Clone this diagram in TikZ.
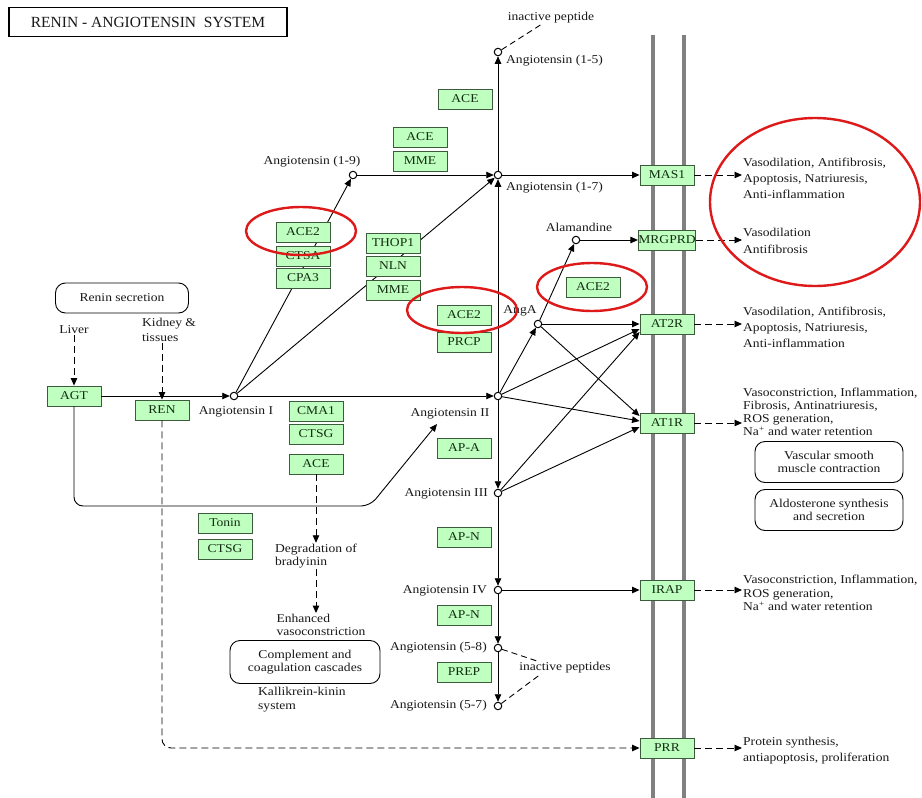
\documentclass[tikz,border=0pt]{standalone}
\usepackage{fontspec}
\setmainfont{Liberation Serif}[FakeStretch=1.13]
\newfontfamily\titlefont{Liberation Serif}
\usetikzlibrary{arrows.meta}
\definecolor{genefill}{RGB}{191,255,191}
\definecolor{genedraw}{RGB}{60,90,60}
\definecolor{genetext}{RGB}{20,45,20}
\definecolor{txtgrey}{RGB}{25,25,25}
\definecolor{membgrey}{RGB}{128,128,128}
\definecolor{hired}{RGB}{222,25,25}
\newcommand{\txtsize}[1]{\fontsize{12}{#1}\selectfont}

\begin{document}
\begin{tikzpicture}[x=1pt, y=-1pt,
    gene/.style={draw=genedraw, fill=genefill, text=genetext, line width=0.9pt,
      minimum width=54pt, minimum height=20pt, inner sep=0pt, font=\txtsize{14}},
    cpd/.style={circle, draw, fill=white, line width=1pt, minimum size=7.5pt, inner sep=0pt},
    lbl/.style={text=txtgrey, inner sep=1pt, font=\txtsize{15}},
    outtxt/.style={lbl, align=left, anchor=west},
    phen/.style={draw, line width=0.9pt, rounded corners=10pt, align=center, text=txtgrey, font=\txtsize{13}},
    conv/.style={line width=0.9pt, -{Triangle[length=7.5pt, width=6.5pt]}},
    dconv/.style={conv, dash pattern=on 7pt off 4pt},
    dline/.style={line width=0.9pt, dash pattern=on 6pt off 4pt},
    hilite/.style={draw=hired, line width=2.4pt}]
  \fill[white] (0,0) rectangle (922,798);
  \useasboundingbox (0,0) rectangle (922,798);

  % membrane
  \draw[membgrey, line width=3.5pt] (653,35) -- (653,798);
  \draw[membgrey, line width=3.5pt] (684,35) -- (684,798);

  \node[draw, line width=1.5pt, text=txtgrey, minimum width=278pt, minimum height=29pt,
    font=\titlefont\fontsize{15.5}{18}\selectfont] (title) at (148,22) {RENIN - ANGIOTENSIN\ \ SYSTEM};

  % compounds
  \node[cpd] (ang15) at (498,52) {};
  \node[cpd] (ang19) at (353,175) {};
  \node[cpd] (ang17) at (498,175) {};
  \node[cpd] (alam) at (576,240) {};
  \node[cpd] (angA) at (538,324) {};
  \node[cpd] (angI) at (234,396) {};
  \node[cpd] (angII) at (498,396) {};
  \node[cpd] (angIII) at (498,493) {};
  \node[cpd] (angIV) at (498,590) {};
  \node[cpd] (ang58) at (498,648) {};
  \node[cpd] (ang57) at (498,706) {};

  \node[lbl] (inact1) at (551,18) {inactive peptide};
  \node[lbl, anchor=west] (lab15) at (505,61) {Angiotensin (1-5)};
  \node[lbl] (lab19) at (312,162) {Angiotensin (1-9)};
  \node[lbl, anchor=west] (lab17) at (505,188) {Angiotensin (1-7)};
  \node[lbl] (labala) at (579,227) {Alamandine};
  \node[lbl] (labA) at (520,311) {AngA};
  \node[lbl] (labI) at (236,412) {Angiotensin I};
  \node[lbl] (labII) at (450,414) {Angiotensin II};
  \node[lbl, anchor=east] (labIII) at (489,494) {Angiotensin III};
  \node[lbl, anchor=east] (labIV) at (488,591) {Angiotensin IV};
  \node[lbl, anchor=east] (lab58) at (488,648) {Angiotensin (5-8)};
  \node[lbl, anchor=east] (lab57) at (488,706) {Angiotensin (5-7)};
  \node[lbl] (inact2) at (565,668) {inactive peptides};

  % receptors and end points
  \node[gene] (mas1) at (667,175) {MAS1};
  \node[gene] (mrgprd) at (667,240) {MRGPRD};
  \node[gene] (at2r) at (667,324) {AT2R};
  \node[gene] (at1r) at (667,423) {AT1R};
  \node[gene] (irap) at (667,590) {IRAP};
  \node[gene] (prr) at (667,748) {PRR};
  \node[gene] (agt) at (74,396) {AGT};
  \node[gene] (ren) at (162,410) {REN};
  \node[gene] (ace3) at (316,464) {ACE};
  \coordinate (agtII) at (437,424);

  \node[phen, minimum width=133pt, minimum height=30pt] (reninsec) at (122,298) {Renin secretion};
  \node[lbl] (liver) at (74,330) {Liver};
  \node[outtxt, font=\txtsize{15}] (kidney) at (141,330) {Kidney \&\\tissues};
  \node[lbl, align=left, font=\txtsize{13}] (degr) at (316,556) {Degradation of\\bradyinin};
  \node[lbl, align=left, font=\txtsize{13}] (enh) at (321,625) {Enhanced\\vasoconstriction};
  \node[phen, minimum width=150pt, minimum height=43pt] (compl) at (305,662) {Complement and\\coagulation cascades};
  \node[outtxt, font=\txtsize{14}] (kks) at (257,700) {Kallikrein-kinin\\system};

  \node[outtxt, font=\txtsize{16}] (out1) at (742,178) {Vasodilation, Antifibrosis,\\Apoptosis, Natriuresis,\\Anti-inflammation};
  \node[outtxt, font=\txtsize{16.5}] (out2) at (742,241) {Vasodilation\\Antifibrosis};
  \node[outtxt, font=\txtsize{16}] (out3) at (742,327) {Vasodilation, Antifibrosis,\\Apoptosis, Natriuresis,\\Anti-inflammation};
  \node[outtxt, font=\txtsize{13}] (out4) at (742,412) {Vasoconstriction, Inflammation,\\Fibrosis, Antinatriuresis,\\ROS generation,\\Na\textsuperscript{+} and water retention};
  \node[phen, minimum width=148pt, minimum height=41pt] (vsmc) at (829,462) {Vascular smooth\\muscle contraction};
  \node[phen, minimum width=148pt, minimum height=41pt] (aldo) at (829,510) {Aldosterone synthesis\\and secretion};
  \node[outtxt, font=\txtsize{13.5}] (out5) at (742,593) {Vasoconstriction, Inflammation,\\ROS generation,\\Na\textsuperscript{+} and water retention};
  \node[outtxt, font=\txtsize{16}] (out6) at (742,751) {Protein synthesis,\\antiapoptosis, proliferation};

  % reactions
  \draw[dconv] (liver) -- (agt);
  \draw[dconv] (kidney.south -| ren) -- (ren);
  \draw[conv] (agt) -- (angI);
  \draw[conv] (angI) -- (angII);
  \draw[conv] (angI) -- (ang19);
  \draw[conv] (angI) -- (ang17);
  \draw[conv] (ang19) -- (ang17);
  \draw[conv] (angII) -- (ang17);
  \draw[conv] (ang17) -- (ang15);
  \draw[dline] (ang15) -- ([xshift=-10pt]inact1.south);
  \draw[conv] (ang17) -- (mas1);
  \draw[conv] (angII) -- (angA);
  \draw[conv] (angA) -- (alam);
  \draw[conv] (alam) -- (mrgprd);
  \draw[conv] (angA) -- (at2r);
  \draw[conv] (angII) -- ([yshift=-5pt]at2r.west);
  \draw[conv] (angIII) -- ([yshift=-8pt]at2r.west);
  \draw[conv] (angA) -- ([yshift=7pt]at1r.west);
  \draw[conv] (angII) -- ([yshift=2pt]at1r.west);
  \draw[conv] (angIII) -- ([yshift=-4pt]at1r.west);
  \draw[conv] (angII) -- (angIII);
  \draw[conv] (angIII) -- (angIV);
  \draw[conv] (angIV) -- (ang58);
  \draw[conv] (ang58) -- (ang57);
  \draw[conv] (angIV) -- (irap);
  \draw[dline] (ang58) -- ([xshift=-27pt]inact2.north);
  \draw[dline] (ang57) -- ([xshift=-25pt]inact2.south);
  \draw[conv, rounded corners=9pt] (agt) |- (370,506) -- (agtII);
  \draw[dconv, rounded corners=9pt] (ren) |- (prr);
  \draw[dconv] (ace3) -- (ace3 |- degr.north);
  \draw[dconv] (degr) -- (degr |- enh.north);

  \draw[dconv] (mas1) -- (mas1 -| out1.west);
  \draw[dconv] (mrgprd) -- (mrgprd -| out2.west);
  \draw[dconv] (at2r) -- (at2r -| out3.west);
  \draw[dconv] (at1r) -- (at1r -| out4.west);
  \draw[dconv] (irap) -- (irap -| out5.west);
  \draw[dconv] (prr) -- (prr -| out6.west);

  % enzymes
  \node[gene] (ace1) at (465,99) {ACE};
  \node[gene] (ace2) at (420,137) {ACE};
  \node[gene] (mme1) at (420,161) {MME};
  \node[gene] (ace2a) at (303,232) {ACE2};
  \node[gene] (ctsa) at (303,256) {CTSA};
  \node[gene] (cpa3) at (303,278) {CPA3};
  \node[gene] (thop1) at (393,243) {THOP1};
  \node[gene] (nln) at (393,266) {NLN};
  \node[gene] (mme2) at (393,290) {MME};
  \node[gene] (ace2b) at (464,315) {ACE2};
  \node[gene] (prcp) at (464,342) {PRCP};
  \node[gene] (ace2c) at (593,287) {ACE2};
  \node[gene] (cma1) at (316,411) {CMA1};
  \node[gene] (ctsg1) at (316,434) {CTSG};
  \node[gene] (apa) at (464,448) {AP-A};
  \node[gene] (apn1) at (464,537) {AP-N};
  \node[gene] (tonin) at (225,523) {Tonin};
  \node[gene] (ctsg2) at (225,549) {CTSG};
  \node[gene] (apn2) at (464,615) {AP-N};
  \node[gene] (prep) at (464,672) {PREP};

  % highlights
  \draw[hilite] (301,231) ellipse [x radius=55pt, y radius=24pt];
  \draw[hilite] (462,310) ellipse [x radius=55pt, y radius=23pt];
  \draw[hilite] (592,287) ellipse [x radius=55pt, y radius=24pt];
  \draw[hilite] (815,202) ellipse [x radius=105pt, y radius=84pt];
\end{tikzpicture}
\end{document}
